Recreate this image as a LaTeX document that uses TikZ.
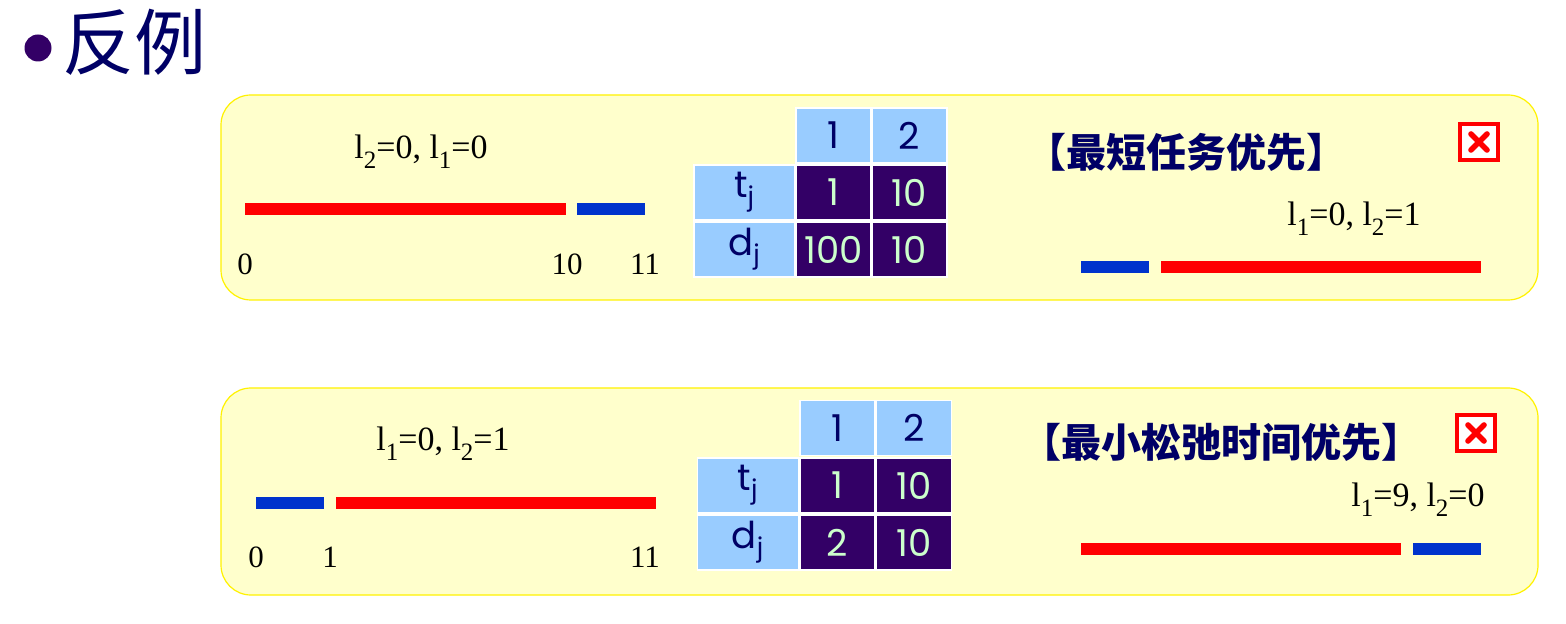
\documentclass[tikz,border=0pt]{standalone}
\usepackage{fontspec}
\setmainfont{Liberation Serif}
\newfontfamily\cjk{Noto Sans CJK SC}
\newfontfamily\tabfont{Poppins}
\definecolor{navy}{HTML}{000066}
\definecolor{bulletc}{HTML}{330066}
\definecolor{panel}{HTML}{FFFFCC}
\definecolor{panelborder}{HTML}{FFF200}
\definecolor{hdr}{HTML}{99CCFF}
\definecolor{dat}{HTML}{330066}
\definecolor{datext}{HTML}{CCFFCC}
\definecolor{barred}{HTML}{FF0000}
\definecolor{barblue}{HTML}{0033CC}
\newcommand{\sbs}[1]{\raisebox{-0.3em}{\fontsize{12.5}{14}\selectfont #1}}
\begin{document}
\begin{tikzpicture}[x=0.5pt,y=-0.5pt,
  panelbox/.style={draw=panelborder, line width=0.6pt, fill=panel, rounded corners=15pt},
  lbl/.style={font=\fontsize{17}{20}\selectfont, text=black, inner sep=0pt},
  num/.style={font=\fontsize{15.5}{18}\selectfont, text=black, inner sep=0pt},
  cell/.style={draw=white, line width=0.8pt, minimum width=37.5pt, minimum height=27.5pt, inner sep=0pt, font=\tabfont\fontsize{18.5}{20}\selectfont},
  hcell/.style={cell, fill=hdr, text=navy},
  lcell/.style={cell, fill=hdr, text=navy, minimum width=50.5pt},
  dcell/.style={cell, fill=dat, text=datext},
  title/.style={font=\cjk\bfseries\fontsize{20}{22}\selectfont, text=navy, inner sep=0pt},
  redbar/.style={fill=barred},
  bluebar/.style={fill=barblue},
  xicon/.style={draw=red, line width=2.4pt, fill=white, minimum width=19pt, minimum height=18pt, inner sep=0pt}
]
\useasboundingbox (0,0) rectangle (1566,624);
\fill[white] (0,0) rectangle (1566,624);

% heading
\fill[bulletc] (38,48) circle (13.5);
\node[anchor=west, inner sep=0pt, text=navy, font=\cjk\fontsize{36}{40}\selectfont] (head) at (62,42) {反例};

% ===== panel 1 =====
\draw[panelbox] (221,95) rectangle (1538,300);
\node[lbl] (p1l) at (421,152) {l\sbs{2}=0, l\sbs{1}=0};
\fill[redbar] (245,203) rectangle (566,215);
\fill[bluebar] (577,203) rectangle (645,215);
\node[num] (p1a) at (245,264) {0};
\node[num] (p1b) at (567,264) {10};
\node[num] (p1c) at (645,264) {11};

\node[hcell] (t1h1) at (833.5,135.5) {1};
\node[hcell] (t1h2) at (909.5,135.5) {2};
\node[lcell] (t1lt) at (744.5,192.5) {t\textsubscript{j}};
\node[lcell] (t1ld) at (744.5,249.5) {d\textsubscript{j}};
\node[dcell] (t1a) at (833.5,192.5) {1};
\node[dcell] (t1b) at (909.5,192.5) {10};
\node[dcell] (t1c) at (833.5,249.5) {100};
\node[dcell] (t1d) at (909.5,249.5) {10};

\node[title, anchor=west] (p1t) at (1026,152) {【最短任务优先】};
\node[xicon] (x1) at (1479,142) {};
\draw[red, line width=2.8pt, line cap=round] ([shift={(-8,-8)}]x1.center) -- ([shift={(8,8)}]x1.center);
\draw[red, line width=2.8pt, line cap=round] ([shift={(8,-8)}]x1.center) -- ([shift={(-8,8)}]x1.center);
\node[lbl] (p1r) at (1354,219) {l\sbs{1}=0, l\sbs{2}=1};
\fill[bluebar] (1081,261) rectangle (1149,273);
\fill[redbar] (1161,261) rectangle (1481,273);

% ===== panel 2 =====
\draw[panelbox] (221,388) rectangle (1538,595);
\node[lbl] (p2l) at (443,444) {l\sbs{1}=0, l\sbs{2}=1};
\fill[bluebar] (256,497) rectangle (324,509);
\fill[redbar] (336,497) rectangle (656,509);
\node[num] (p2a) at (256,557) {0};
\node[num] (p2b) at (330,557) {1};
\node[num] (p2c) at (645,557) {11};

\node[hcell] (t2h1) at (837.5,428) {1};
\node[hcell] (t2h2) at (914,428) {2};
\node[lcell] (t2lt) at (748,485.5) {t\textsubscript{j}};
\node[lcell] (t2ld) at (748,542.5) {d\textsubscript{j}};
\node[dcell] (t2a) at (837.5,485.5) {1};
\node[dcell] (t2b) at (914,485.5) {10};
\node[dcell] (t2c) at (837.5,542.5) {2};
\node[dcell] (t2d) at (914,542.5) {10};

\node[title, anchor=west] (p2t) at (1021,442) {【最小松弛时间优先】};
\node[xicon] (x2) at (1476,433) {};
\draw[red, line width=2.8pt, line cap=round] ([shift={(-8,-8)}]x2.center) -- ([shift={(8,8)}]x2.center);
\draw[red, line width=2.8pt, line cap=round] ([shift={(8,-8)}]x2.center) -- ([shift={(-8,8)}]x2.center);
\node[lbl] (p2r) at (1418,500) {l\sbs{1}=9, l\sbs{2}=0};
\fill[redbar] (1081,543) rectangle (1401,555);
\fill[bluebar] (1413,543) rectangle (1481,555);
\end{tikzpicture}
\end{document}
